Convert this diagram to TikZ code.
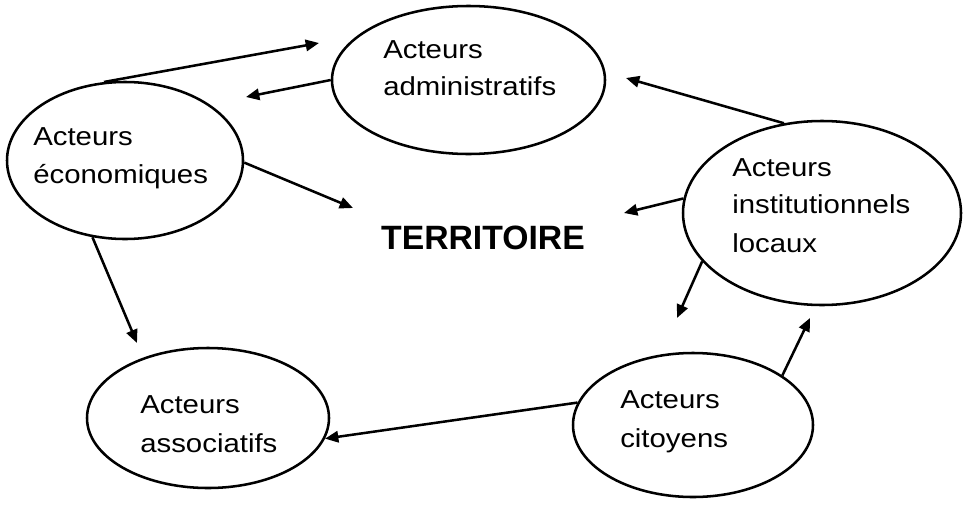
\documentclass[tikz,border=0pt]{standalone}
\usepackage{fontspec}
\setmainfont{Liberation Sans}
\newfontfamily\labfont{Liberation Sans}[FakeStretch=1.13]
\usetikzlibrary{shapes.geometric,arrows.meta}
\tikzset{
  actor/.style={draw=black, line width=1.9pt, ellipse, inner sep=0pt},
  lab/.style={anchor=base west, inner sep=0pt, font=\labfont\fontsize{19.5}{28.5}\selectfont},
  link/.style={line width=1.9pt, -{Triangle[length=10pt,width=8.5pt]}},
}
\begin{document}
\begin{tikzpicture}[x=0.75pt,y=-0.75pt]
\useasboundingbox (0,0) rectangle (967,507);
\fill[white] (0,0) rectangle (967,507);
% ellipses
\node[actor, minimum width=204.75pt, minimum height=111pt] (adm) at (468.5,80) {};
\node[actor, minimum width=177pt, minimum height=117.75pt] (eco) at (125,160.5) {};
\node[actor, minimum width=208.5pt, minimum height=138pt] (inst) at (822,213) {};
\node[actor, minimum width=181.5pt, minimum height=105pt] (asso) at (208,418) {};
\node[actor, minimum width=180pt, minimum height=108pt] (cit) at (693,425) {};
% labels
\node[lab] (adm1) at (383,58) {Acteurs};
\node[lab] (adm2) at (383,95) {administratifs};
\node[lab] (eco1) at (33,145) {Acteurs};
\node[lab] (eco2) at (33,183) {économiques};
\node[lab] (inst1) at (732,176) {Acteurs};
\node[lab] (inst2) at (732,213) {institutionnels};
\node[lab] (inst3) at (732,252) {locaux};
\node[lab] (asso1) at (140,413) {Acteurs};
\node[lab] (asso2) at (140,452) {associatifs};
\node[lab] (cit1) at (620,408) {Acteurs};
\node[lab] (cit2) at (620,447) {citoyens};
\node[anchor=base, inner sep=0pt, font=\bfseries\fontsize{25.3}{30}\selectfont] (terr) at (483,249) {TERRITOIRE};
% free ends
\coordinate (t1) at (319,43);
\coordinate (t2) at (246,97);
\coordinate (t3) at (353,208);
\coordinate (t4) at (137,343);
\coordinate (t5) at (626,78);
\coordinate (t6) at (624,213);
\coordinate (t7) at (677,318);
\coordinate (t8) at (810,318);
% connectors
\draw[link] (eco.105.8) -- (t1);
\draw[link] (adm.180) -- (t2);
\draw[link] (eco.-1.2) -- (t3);
\draw[link] (eco.247.6) -- (t4);
\draw[link] (inst.113) -- (t5);
\draw[link] (inst.174.2) -- (t6);
\draw[link] (inst.202.8) -- (t7);
\draw[link] (cit.29) -- (t8);
\draw[link] (cit.169.5) -- (asso.-10);
\end{tikzpicture}
\end{document}
